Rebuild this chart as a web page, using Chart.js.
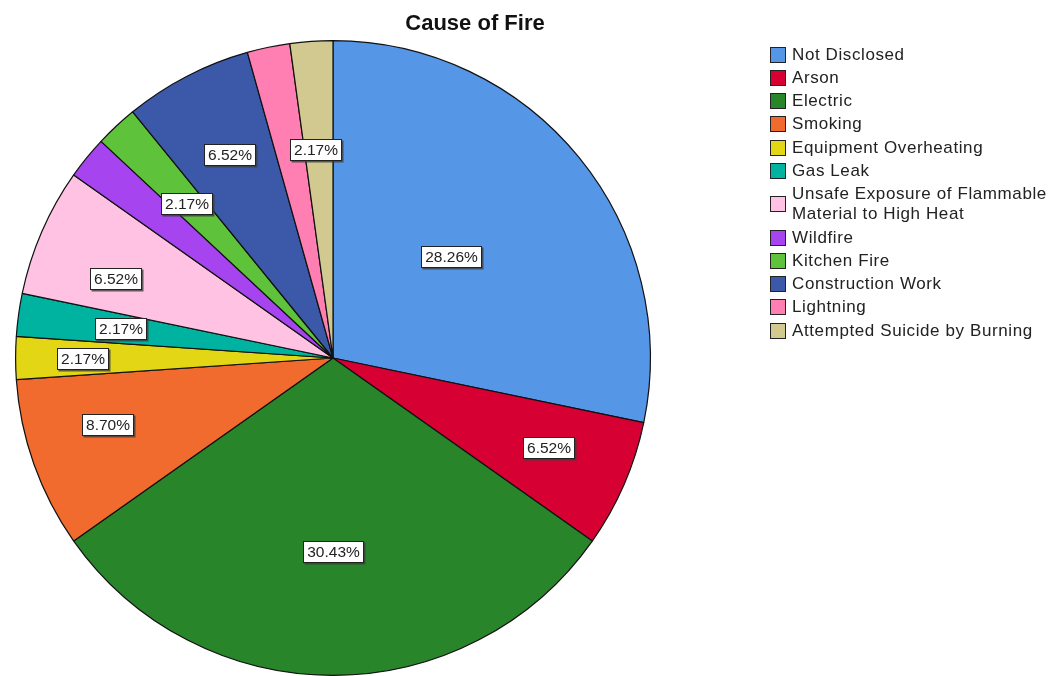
<!DOCTYPE html>
<html>
<head>
<meta charset="utf-8">
<title>Cause of Fire</title>
<script src="https://cdn.jsdelivr.net/npm/chart.js@4.4.1/dist/chart.umd.min.js"></script>
<style>
  html, body { margin: 0; padding: 0; background: #fff; overflow: hidden; }
  #wrap { position: relative; width: 1050px; height: 676px; }
  #pie { position: absolute; left: 0; top: 0; }
  #title { position: absolute; left: 375px; width: 200px; top: 10px; text-align: center;
           font: bold 22px "Liberation Sans", Arial, sans-serif; color: #111; }
  #legend { position: absolute; left: 770px; top: 43px; font: 17px "Liberation Sans", Arial, sans-serif; color: #222; }
  .row { display: flex; align-items: center; padding: 1.65px 0; }
  .box { width: 14px; height: 14px; border: 1px solid #222; margin-right: 6px; flex: none; }
  .txt { line-height: 20px; letter-spacing: 0.6px; }
</style>
</head>
<body>
<div id="wrap">
  <canvas id="pie" width="1050" height="676"></canvas>
  <div id="title">Cause of Fire</div>
  <div id="legend"></div>
</div>
<script>
/* ---- Data: fire cases by cause (n = 46) ---- */
const causes = ['Not Disclosed', 'Arson', 'Electric', 'Smoking', 'Equipment Overheating', 'Gas Leak',
  'Unsafe Exposure of Flammable\nMaterial to High Heat', 'Wildfire', 'Kitchen Fire', 'Construction Work',
  'Lightning', 'Attempted Suicide by Burning'];
const caseCounts = [13, 3, 14, 4, 1, 1, 3, 1, 1, 3, 1, 1];
const sliceColors = ['#5596e6', '#d60032', '#29852a', '#f26b2e', '#e3d614', '#00b3a0',
  '#ffc2e3', '#a644f0', '#5ec23b', '#3b59a8', '#ff7fb3', '#d1c98f'];

// percentage box placement: fraction of the radius (null = not shown) and fraction along the slice
const labelRadius = [0.49, 0.735, 0.61, 0.74, 0.79, 0.675, 0.73, null, 0.67, 0.72, null, 0.66];
const labelSpan = [0.486, 0.46, 0.5, 0.6, 0.5, 0.5, 0.35, 0.5, 0.45, 0.52, 0.5, 0.4];

const total = caseCounts.reduce((a, b) => a + b, 0);
const pctText = v => (v / total * 100).toFixed(2) + '%';

/* ---- Percentage boxes on slices ---- */
const boxLabels = {
  id: 'boxLabels',
  afterDatasetsDraw(chart) {
    const ctx = chart.ctx;
    const meta = chart.getDatasetMeta(0);
    ctx.save();
    ctx.font = '15.5px "Liberation Sans", Arial, sans-serif';
    ctx.textAlign = 'center';
    ctx.textBaseline = 'middle';
    meta.data.forEach((arc, i) => {
      if (labelRadius[i] == null) return;
      const a = arc.startAngle + (arc.endAngle - arc.startAngle) * labelSpan[i];
      const x = arc.x + Math.cos(a) * arc.outerRadius * labelRadius[i];
      const y = arc.y + Math.sin(a) * arc.outerRadius * labelRadius[i];
      const t = pctText(caseCounts[i]);
      const w = Math.round(ctx.measureText(t).width) + 7, h = 21;
      const bx = Math.round(x - w / 2) + 0.5, by = Math.round(y - h / 2) + 0.5;
      ctx.fillStyle = 'rgba(60,60,60,0.8)';
      ctx.fillRect(bx + 1, by + 1, w + 1, h + 1);
      ctx.fillStyle = '#fff';
      ctx.fillRect(bx, by, w, h);
      ctx.strokeStyle = '#222';
      ctx.lineWidth = 1;
      ctx.strokeRect(bx, by, w, h);
      ctx.fillStyle = '#222';
      ctx.fillText(t, bx + w / 2, by + h / 2 + 1);
    });
    ctx.restore();
  }
};

new Chart(document.getElementById('pie'), {
  type: 'pie',
  data: {
    labels: causes,
    datasets: [{ data: caseCounts, backgroundColor: sliceColors, borderColor: '#111', borderWidth: 1.2 }]
  },
  options: {
    responsive: false,
    animation: false,
    events: [],
    layout: { padding: { top: 40, bottom: 0, left: 15, right: 399 } },
    plugins: { legend: { display: false }, tooltip: { enabled: false } }
  },
  plugins: [boxLabels]
});

/* ---- Legend ---- */
document.getElementById('legend').innerHTML = causes.map((c, i) =>
  `<div class="row"><div class="box" style="background:${sliceColors[i]}"></div><div class="txt">${c.replace('\n', '<br>')}</div></div>`
).join('');
</script>
</body>
</html>
